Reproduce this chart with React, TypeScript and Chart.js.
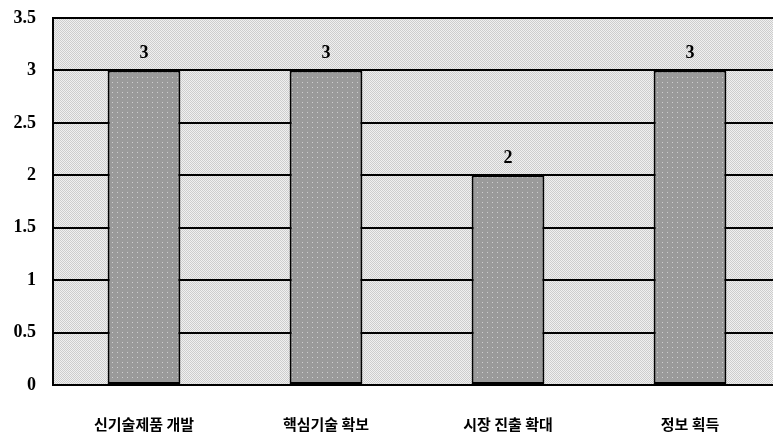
import React, { useEffect, useRef } from "react";
import { Chart, registerables } from "chart.js";

Chart.register(...registerables);

const categories = ["신기술제품 개발", "핵심기술 확보", "시장 진출 확대", "정보 획득"];
const values = [3, 3, 2, 3];
const yTicks = [0, 0.5, 1, 1.5, 2, 2.5, 3, 3.5];

function makePattern(size: number, base: string, dot: string, dots: [number, number][]) {
  const c = document.createElement("canvas");
  c.width = size;
  c.height = size;
  const g = c.getContext("2d")!;
  g.fillStyle = base;
  g.fillRect(0, 0, size, size);
  g.fillStyle = dot;
  dots.forEach(([x, y]) => g.fillRect(x, y, 1, 1));
  return g.createPattern(c, "repeat")!;
}

export default function App() {
  const ref = useRef<HTMLCanvasElement>(null);
  useEffect(() => {
    const bgPat = makePattern(2, "#f0f0f0", "#cdcdcd", [[0, 0], [1, 1]]);
    const barPat = makePattern(5, "#9a9a9a", "#d0d0d0", [[2, 2]]);
    const bgPlugin = {
      id: "bgPlot",
      beforeDraw(chart: any) {
        const { ctx, chartArea } = chart;
        ctx.save();
        ctx.fillStyle = bgPat;
        ctx.fillRect(chartArea.left, chartArea.top, chartArea.right - chartArea.left, chartArea.bottom - chartArea.top);
        ctx.restore();
      },
    };
    const labelPlugin = {
      id: "valLabels",
      afterDatasetsDraw(chart: any) {
        const { ctx } = chart;
        const meta = chart.getDatasetMeta(0);
        ctx.save();
        ctx.fillStyle = "#000";
        ctx.font = "bold 18px 'Liberation Serif'";
        ctx.textAlign = "center";
        ctx.textBaseline = "middle";
        meta.data.forEach((el: any, i: number) => {
          ctx.fillText(String(values[i]), el.x, el.y - 17);
        });
        ctx.restore();
      },
    };
    const chart = new Chart(ref.current!, {
      type: "bar",
      data: {
        labels: categories,
        datasets: [
          {
            data: values,
            backgroundColor: barPat as any,
            borderColor: "#000",
            borderWidth: 2,
            borderSkipped: false,
            barPercentage: 0.4,
            categoryPercentage: 1,
          },
        ],
      },
      options: {
        animation: false,
        responsive: false,
        maintainAspectRatio: false,
        layout: { padding: { top: 18, right: 9, left: 0, bottom: 0 } },
        plugins: { legend: { display: false }, tooltip: { enabled: false } },
        scales: {
          x: {
            grid: { display: false, drawTicks: false },
            border: { display: true, color: "#000", width: 2 },
            ticks: {
              color: "#000",
              padding: 30,
              font: { family: "'Noto Sans CJK KR'", weight: "bold", size: 15 },
            },
            afterFit(scale: any) {
              scale.height = 56;
              scale.paddingLeft = 0;
              scale.paddingRight = 0;
            },
          },
          y: {
            min: 0,
            max: 3.5,
            afterBuildTicks(scale: any) {
              scale.ticks = yTicks.map((v) => ({ value: v }));
            },
            grid: { color: "#000", lineWidth: 2, drawTicks: false },
            border: { display: true, color: "#000", width: 2 },
            ticks: {
              color: "#000",
              padding: 17,
              callback: (v: any) => String(v),
              font: { family: "'Liberation Serif'", weight: "bold", size: 18 },
            },
            afterFit(scale: any) {
              scale.width = 53;
              scale.paddingTop = 0;
              scale.paddingBottom = 0;
            },
          },
        },
      },
      plugins: [bgPlugin, labelPlugin],
    });
    return () => chart.destroy();
  }, []);
  return (
    <div style={{ position: "fixed", left: 0, top: 0, width: 773, height: 441, overflow: "hidden", background: "#fff" }}>
      <canvas ref={ref} width={790} height={441} style={{ width: 790, height: 441, display: "block" }} />
    </div>
  );
}
